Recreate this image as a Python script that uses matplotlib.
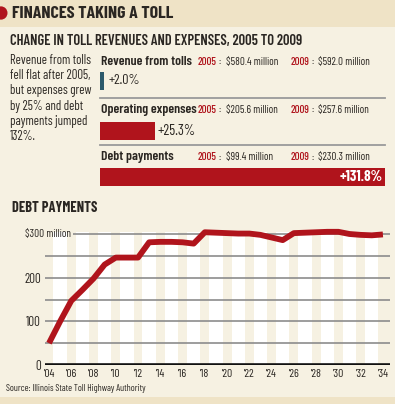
import matplotlib
matplotlib.use("Agg")
import matplotlib.pyplot as plt
from matplotlib import font_manager as fm
from matplotlib.patches import Rectangle, Circle

# ---- data ----
rows = ["Revenue from tolls", "Operating expenses", "Debt payments"]
v2005 = ["$580.4 million", "$205.6 million", "$99.4 million"]
v2009 = ["$592.0 million", "$257.6 million", "$230.3 million"]
pct_change = [2.0, 25.3, 131.8]
pct_labels = ["+2.0%", "+25.3%", "+131.8%"]

years = list(range(2004, 2035))
debt = [50, 100, 147, 172, 198, 230, 246, 246, 246, 281, 282, 282, 281, 278,
        304, 303, 302, 301, 301, 298, 292, 286, 302, 303, 304, 305, 305, 300,
        298, 297, 299]
xtick_years = list(range(2004, 2035, 2))
xtick_labels = ["'%02d" % (y % 100) for y in xtick_years]
yticks = [0, 100, 200]
grid_vals = [50, 100, 150, 200, 250, 300]

# ---- style ----
W, H = 395, 404
BG = "#f6f1e2"
BAR_BG = "#efe3c6"
RED = "#b0141c"
TEAL = "#2c5a6c"
DARK = "#2a2622"
GRID = "#8c8c8c"
FAMILY = "Barlow Condensed"
plt.rcParams["font.family"] = [FAMILY, "DejaVu Sans"]


def _wi(w):
    if isinstance(w, (int, float)):
        return int(w)
    return fm.weight_dict.get(str(w), 400)


def fp(weight):
    cands = [f for f in fm.fontManager.ttflist
             if f.name == FAMILY and f.style == "normal"]
    if not cands:
        return fm.FontProperties(family=[FAMILY, "DejaVu Sans"], weight=weight)
    best = min(cands, key=lambda f: (abs(_wi(f.weight) - weight),
                                     "[" in f.fname, f.fname))
    return fm.FontProperties(fname=best.fname)


F400, F500, F600, F700 = fp(400), fp(500), fp(600), fp(700)

fig = plt.figure(figsize=(W / 100, H / 100), dpi=100, facecolor=BG)
renderer = fig.canvas.get_renderer()


def fx(x):
    return x / W


def fy(y):
    return 1 - y / H


def txt(x, y, s, prop, size, **kw):
    kw.setdefault("color", DARK)
    kw.setdefault("va", "center")
    p = prop.copy()
    p.set_size(size)
    return fig.text(fx(x), fy(y), s, fontproperties=p, **kw)


def fit(texts, ref, width):
    """Scale font size of texts so that text `ref` gets the given pixel width."""
    w = ref.get_window_extent(renderer).width
    k = width / w if w > 0 else 1.0
    for t in texts:
        t.set_fontsize(t.get_fontsize() * k)


# title band and bottom band
fig.patches.append(Rectangle((0, fy(27)), 1, 27 / H, transform=fig.transFigure,
                             facecolor=BAR_BG, edgecolor="none", zorder=0))
fig.patches.append(Rectangle((0, 0), 1, 7 / H, transform=fig.transFigure,
                             facecolor=BAR_BG, edgecolor="none", zorder=0))
fig.patches.append(Circle((fx(1), fy(13)), 6.5 / W, transform=fig.transFigure,
                          facecolor=RED, edgecolor="none", zorder=1))

t = txt(12, 13.5, "FINANCES TAKING A TOLL", F700, 14)
fit([t], t, 162)
t = txt(10, 40.5, "CHANGE IN TOLL REVENUES AND EXPENSES, 2005 TO 2009", F600, 12)
fit([t], t, 294)

left_lines = ["Revenue from tolls", "fell flat after 2005,", "but expenses grew",
              "by 25% and debt", "payments jumped", "132%."]
lt = [txt(10, 60.5 + i * 15.2, line, F400, 9.3) for i, line in enumerate(left_lines)]
fit(lt, lt[1], 80)

# ---- bar section ----
bx0, bx1, by0, by1 = 100, 385, 55, 190
axb = fig.add_axes([fx(bx0), fy(by1), fx(bx1 - bx0), (by1 - by0) / H])
axb.set_xlim(0, max(pct_change))
axb.set_ylim(by1, by0)
axb.axis("off")
bar_y = [81, 131, 177]
bar_colors = [TEAL, RED, RED]
axb.barh(bar_y, pct_change, height=18.5, left=0, color=bar_colors)

head_y = [62, 110, 157]
heads, yrs, colons, vals = [], [], [], []
for i, r in enumerate(rows):
    heads.append(txt(101, head_y[i], r, F600, 9.8))
    yrs.append(txt(198, head_y[i], "2005", F500, 8.3, color=RED))
    colons.append(txt(218.5, head_y[i], ":", F400, 8.0))
    vals.append(txt(225.5, head_y[i], v2005[i], F400, 7.6))
    yrs.append(txt(291, head_y[i], "2009", F500, 8.3, color=RED))
    colons.append(txt(311.5, head_y[i], ":", F400, 8.0))
    vals.append(txt(318.5, head_y[i], v2009[i], F400, 7.6))
fit(heads, heads[1], 96)
fit(yrs, yrs[0], 19)
fit(colons, colons[0], 2.2)
fit(vals, vals[0], 52)


def axtxt(x, y, s, prop, size, **kw):
    p = prop.copy()
    p.set_size(size)
    return axb.text(x, y, s, fontproperties=p, va="center", **kw)


p0 = axtxt(pct_change[0] + 2.0, bar_y[0], pct_labels[0], F400, 10.3,
           ha="left", color=DARK)
p1 = axtxt(pct_change[1] + 1.5, bar_y[1], pct_labels[1], F400, 10.6,
           ha="left", color=DARK)
fit([p0, p1], p1, 38)
p2 = axtxt(pct_change[2] - 1.0, bar_y[2], pct_labels[2], F700, 10.3,
           ha="right", color="white")
fit([p2], p2, 43)

for yy in [97.5, 145]:
    fig.add_artist(plt.Line2D([fx(100), fx(385)], [fy(yy), fy(yy)],
                              color="#9a9a9a", lw=1.3))

# ---- line chart ----
t = txt(12.5, 207.5, "DEBT PAYMENTS", F700, 10.6)
fit([t], t, 85)

px_per_year = 11.13
x_left_px, x_right_px = 45, 390
y_top_px, y_bot_px = 232, 365
x0y = 2004 + (x_left_px - 49) / px_per_year
x1y = 2004 + (x_right_px - 49) / px_per_year
ppu = (365 - 234) / 300.0
ytop = (y_bot_px - y_top_px) / ppu

ax = fig.add_axes([fx(x_left_px), fy(y_bot_px), fx(x_right_px - x_left_px),
                   (y_bot_px - y_top_px) / H])
ax.set_facecolor(BG)
ax.set_xlim(x0y, x1y)
ax.set_ylim(0, ytop)
for s in ax.spines.values():
    s.set_visible(False)

for yr in range(2005, 2034, 2):
    ax.axvspan(yr - 0.6, yr + 0.6, color="white", lw=0, zorder=0)

for g in grid_vals:
    if g == 300:
        ax.plot([2006.2, x1y], [g, g], color=GRID, lw=1.2, zorder=1,
                solid_capstyle="butt")
    else:
        ax.axhline(g, color=GRID, lw=1.2, zorder=1)
ax.axhline(0, color="#111111", lw=2.6, zorder=3)

ax.plot(years, debt, color=RED, lw=4.2, zorder=4, solid_joinstyle="round",
        solid_capstyle="butt", clip_on=False)

ax.set_xticks(xtick_years)
ax.set_xticklabels(xtick_labels, color=DARK)
ax.set_yticks(yticks)
ax.set_yticklabels([str(v) for v in yticks], color=DARK)
for lab in ax.get_xticklabels():
    lab.set_fontproperties(F400)
    lab.set_fontsize(8.4)
for lab in ax.get_yticklabels():
    lab.set_fontproperties(F400)
    lab.set_fontsize(9.4)
ax.tick_params(axis="both", length=0, pad=3)
p = F400.copy()
p.set_size(8.6)
m = ax.text(2006.0, 300, "$300 million", fontproperties=p, color=DARK,
            ha="right", va="center")
fit([m], m, 46)

t = txt(5.5, 388.5, "Source: Illinois State Toll Highway Authority", F400, 6.9)
fit([t], t, 140)

fig.savefig("out.png", dpi=100, facecolor=BG)
